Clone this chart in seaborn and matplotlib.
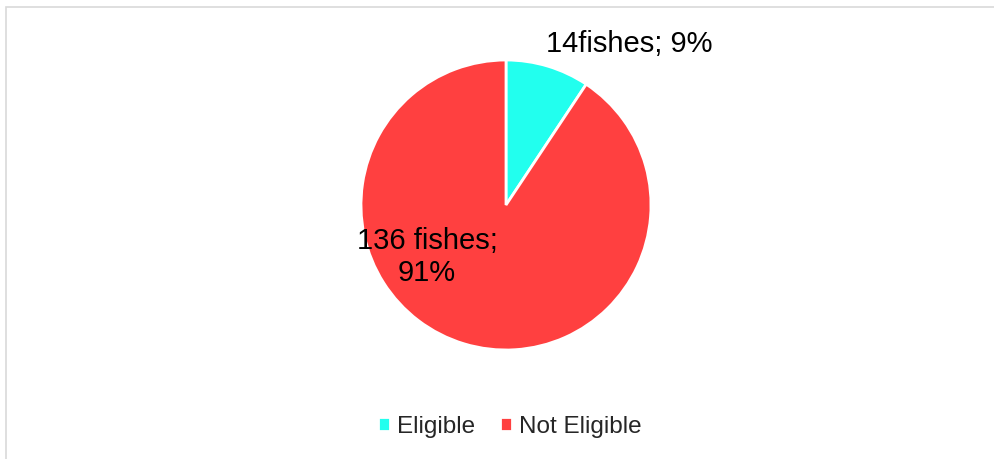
import matplotlib
matplotlib.use("Agg")
import matplotlib.pyplot as plt
from matplotlib.patches import Rectangle
import seaborn as sns

categories = ["Eligible", "Not Eligible"]
counts = [14, 136]
data_labels = ["14fishes; 9%", "136 fishes;\n91%"]
colors = ["#22FFEE", "#FF4040"]

sns.set_theme(style="white")
plt.rcParams["font.family"] = ["Liberation Sans", "DejaVu Sans"]

fig = plt.figure(figsize=(9.95, 4.59), dpi=100)
W, H = 995, 459
cx, cy, r = 506, 205, 145
ax = fig.add_axes([(cx - r) / W, (H - cy - r) / H, 2 * r / W, 2 * r / H])

wedges, _ = ax.pie(
    counts,
    colors=colors,
    startangle=90,
    counterclock=False,
    radius=1,
    wedgeprops=dict(edgecolor="white", linewidth=2),
)
ax.set_xlim(-1, 1)
ax.set_ylim(-1, 1)
ax.set_aspect("equal")
ax.axis("off")

# data labels
ax.text((629 - cx) / r, (cy - 44) / r, data_labels[0], fontsize=21,
        ha="center", va="center", color="black", clip_on=False)
ax.text((427 - cx) / r, (cy - 257) / r, data_labels[1], fontsize=21,
        ha="center", va="center", color="black", linespacing=1.18, clip_on=False)

fig.legend(wedges, categories, loc="center", bbox_to_anchor=(510 / W, 1 - 427 / H),
           ncol=2, frameon=False, fontsize=17.5, handlelength=0.5, handleheight=0.5,
           handletextpad=0.3, columnspacing=1.0)

fig.patches.append(Rectangle((5.5 / W, -0.1), 1.2, (H - 7) / H + 0.1,
                             transform=fig.transFigure, fill=False,
                             edgecolor="#d9d9d9", linewidth=1.2))

fig.savefig("out.png", dpi=100)
